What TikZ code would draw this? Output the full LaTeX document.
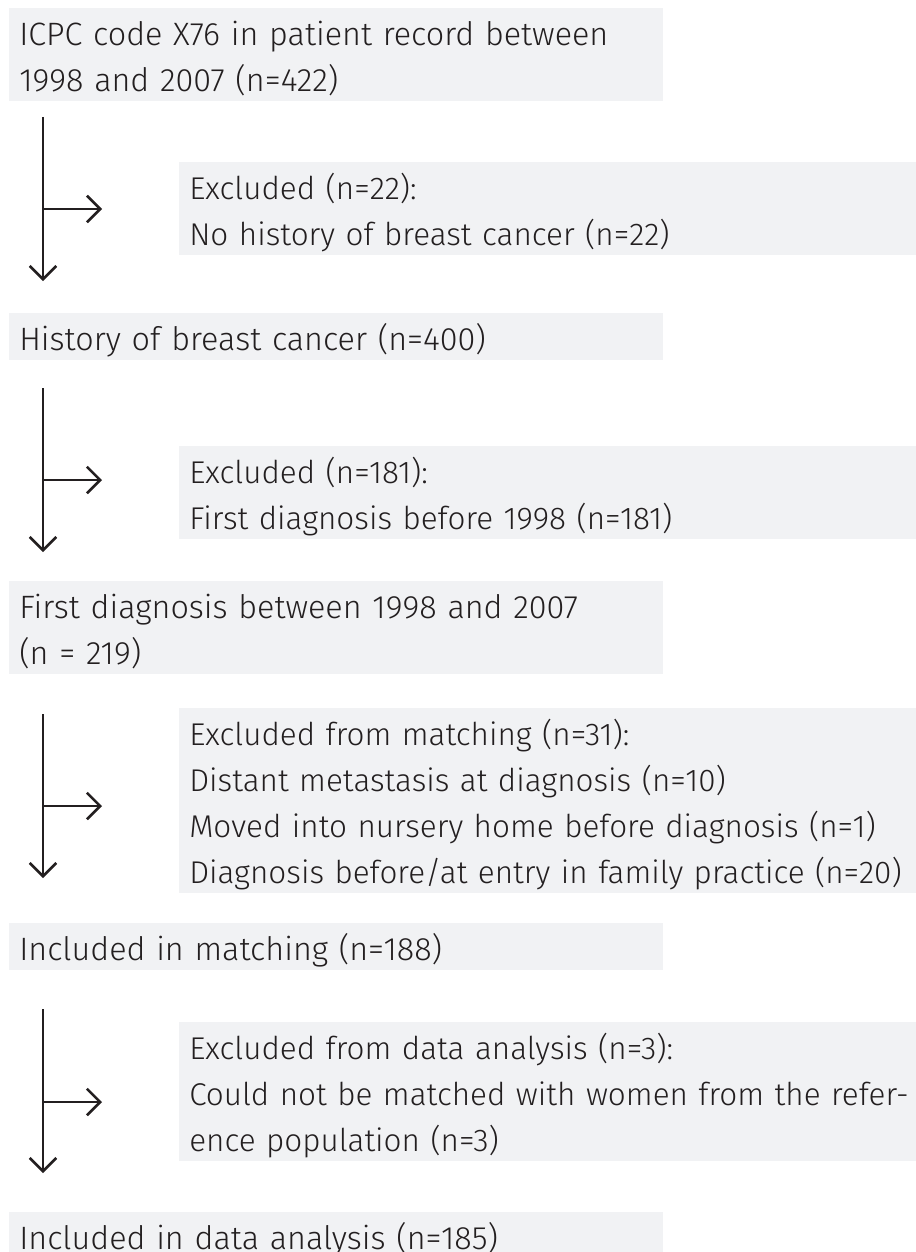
\documentclass[tikz,border=0pt]{standalone}
\usepackage{fontspec}
\setmainfont{Fira Sans}[UprightFont=* Light]
\usepackage{tikz}
\usetikzlibrary{arrows.meta}
\usetikzlibrary{positioning}
\definecolor{boxgray}{HTML}{F1F2F4}
\definecolor{inkgray}{HTML}{231F20}
\tikzset{stage/.style={ % Grey box of the main flow
           rectangle,
           fill=boxgray,
           anchor=north west,
           inner xsep=7.5pt, inner ysep=0pt,
           text width=475.5pt, align=left,
           text=inkgray,
           font=\fontsize{24.25}{34.5}\selectfont,
           execute at begin node=\rule{0pt}{27.75pt},  % First baseline
           execute at end node=\rule[-7.5pt]{0pt}{0pt}}, % Space below last line
         excluded/.style={stage, text width=560pt, % Boxes on the right, run past the edge
           font=\fontsize{23.6}{34.5}\selectfont},
         arrow/.style={ % Flow arrows
           -{Straight Barb[length=10pt,width=20pt]},
           line width=1.9pt,
           draw=inkgray}}

\begin{document}
\begin{tikzpicture}[x=0.75pt, y=-0.75pt]
      \useasboundingbox (0,0) rectangle (915,1252);

      \node[stage] (icpc) at (9,8) {ICPC code X76 in patient record between\\1998 and 2007 (n=422)};
      \node[excluded] (excl1) at (179,162) {Excluded (n=22):\\No history of breast cancer (n=22)};
      \node[stage] (history) at (9,313) {History of breast cancer (n=400)};
      \node[excluded] (excl2) at (179,446) {Excluded (n=181):\\First diagnosis before 1998 (n=181)};
      \node[stage] (firstdiag) at (9,581) {First diagnosis between 1998 and 2007\\(n = 219)};
      \node[excluded] (excl3) at (179,708) {Excluded from matching (n=31):\\Distant metastasis at diagnosis (n=10)\\Moved into nursery home before diagnosis (n=1)\\Diagnosis before/at entry in family practice (n=20)};
      \node[stage] (matching) at (9,923) {Included in matching (n=188)};
      \node[excluded] (excl4) at (179,1022) {Excluded from data analysis (n=3):\\Could not be matched with women from the refer-\\ence population (n=3)};
      \node[stage] (analysis) at (9,1212) {Included in data analysis (n=185)};

      \coordinate (top1) at (43,117);
      \coordinate (fork1) at (43,209);
      \coordinate (bot1) at (43,281);
      \coordinate (top2) at (43,388);
      \coordinate (fork2) at (43,480);
      \coordinate (bot2) at (43,552);
      \coordinate (top3) at (43,714);
      \coordinate (fork3) at (43,806);
      \coordinate (bot3) at (43,878);
      \coordinate (top4) at (43,1009);
      \coordinate (fork4) at (43,1102);
      \coordinate (bot4) at (43,1173);

      \draw[arrow] (top1) -- (bot1);
      \draw[arrow] (fork1) -- ++(59,0);

      \draw[arrow] (top2) -- (bot2);
      \draw[arrow] (fork2) -- ++(59,0);

      \draw[arrow] (top3) -- (bot3);
      \draw[arrow] (fork3) -- ++(59,0);

      \draw[arrow] (top4) -- (bot4);
      \draw[arrow] (fork4) -- ++(59,0);

    \end{tikzpicture}
\end{document}
